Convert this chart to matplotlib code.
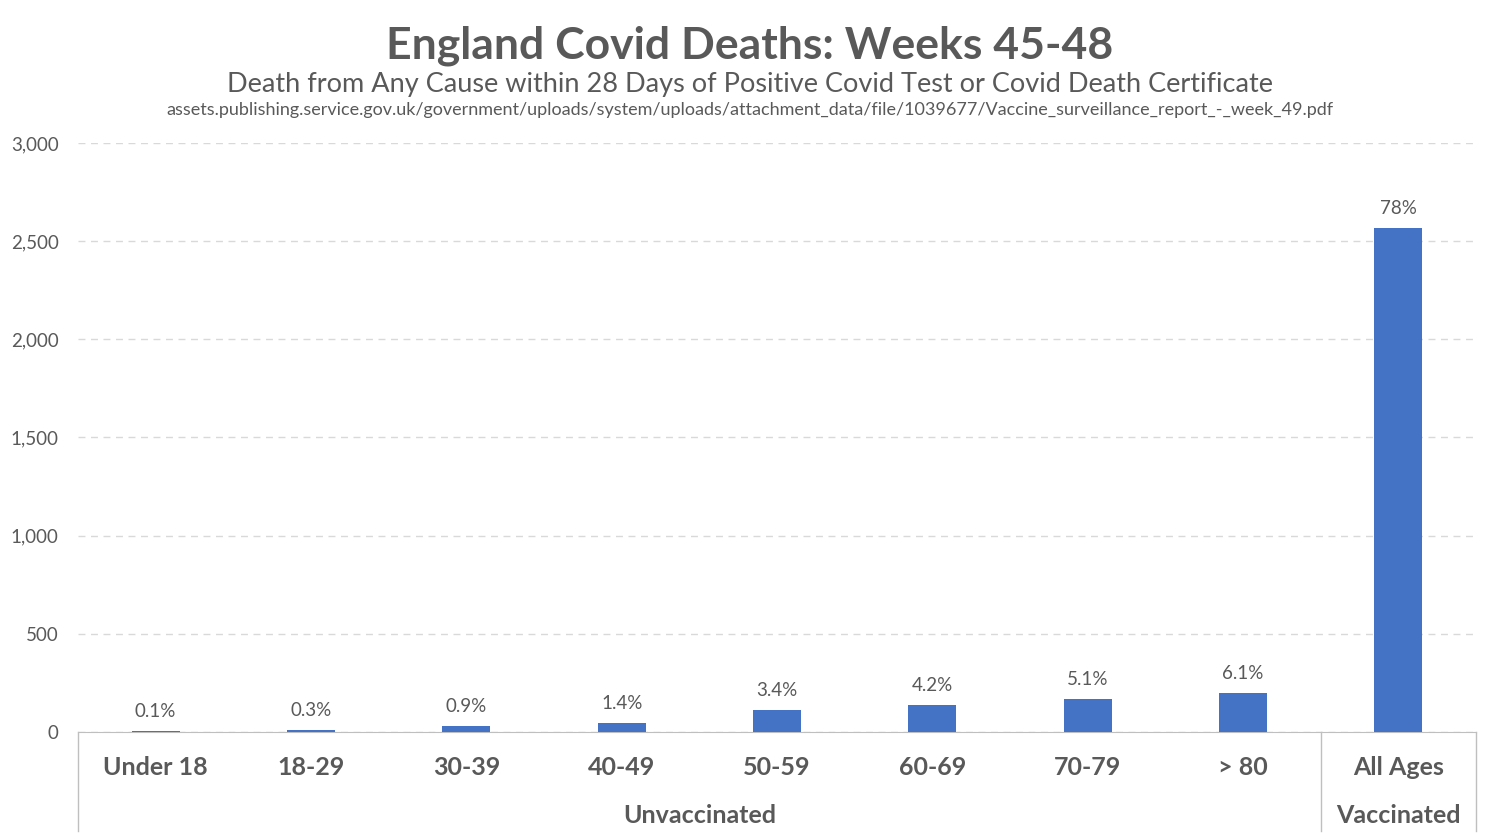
import matplotlib.pyplot as plt
import matplotlib.transforms as mtransforms

plt.rcParams['font.family'] = ['Lato', 'DejaVu Sans']

categories = ['Under 18', '18-29', '30-39', '40-49', '50-59', '60-69', '70-79', '> 80', 'All Ages']
deaths = [3, 9, 29, 45, 110, 135, 166, 197, 2567]
pct_labels = ['0.1%', '0.3%', '0.9%', '1.4%', '3.4%', '4.2%', '5.1%', '6.1%', '78%']
groups = ['Unvaccinated', 'Vaccinated']
group_sizes = [8, 1]

grey = '#595959'
blue = '#4472C4'

fig = plt.figure(figsize=(15, 8.4), dpi=100)
ax = fig.add_axes([0.052, 0.1286, 0.932, 0.7012])

x = list(range(len(categories)))
ax.bar(x, deaths, width=0.31, color=blue, zorder=3)
for xi, v, lab in zip(x, deaths, pct_labels):
    ax.annotate(lab, (xi, v), xytext=(0, 8), textcoords='offset points',
                ha='center', va='bottom', fontsize=13.5, color=grey)

ax.set_xlim(-0.5, len(categories) - 0.5)
ax.set_ylim(0, 3000)
ax.set_yticks(range(0, 3001, 500))
ax.set_yticklabels([f'{t:,}' for t in range(0, 3001, 500)])
ax.yaxis.grid(True, linestyle=(0, (5, 4)), color='#d9d9d9', linewidth=1)
ax.set_axisbelow(True)

ax.set_xticks(x)
ax.set_xticklabels(categories, fontsize=18, fontweight='bold', color=grey)
ax.tick_params(axis='x', length=0, pad=17)
ax.tick_params(axis='y', length=0, pad=14, labelsize=13.5, labelcolor=grey)

for side in ['top', 'right', 'left']:
    ax.spines[side].set_visible(False)
ax.spines['bottom'].set_color('#bfbfbf')

# group separators and labels below the axis
trans = mtransforms.blended_transform_factory(ax.transData, ax.transAxes)
start = -0.5
edges = [start]
for g, n in zip(groups, group_sizes):
    end = start + n
    ax.text((start + end) / 2, -0.142, g, transform=trans, ha='center', va='center',
            fontsize=18, fontweight='bold', color=grey)
    edges.append(end)
    start = end
for e in edges:
    ax.plot([e, e], [0, -0.168], transform=trans, color='#bfbfbf', linewidth=1, clip_on=False)

fig.text(0.5, 0.946, 'England Covid Deaths: Weeks 45-48', ha='center', va='center',
         fontsize=32, fontweight='bold', color=grey)
fig.text(0.5, 0.899, 'Death from Any Cause within 28 Days of Positive Covid Test or Covid Death Certificate',
         ha='center', va='center', fontsize=19.5, color=grey)
fig.text(0.5, 0.869, 'assets.publishing.service.gov.uk/government/uploads/system/uploads/attachment_data/file/1039677/Vaccine_surveillance_report_-_week_49.pdf',
         ha='center', va='center', fontsize=13, color=grey)

fig.savefig('out.png', dpi=100)
